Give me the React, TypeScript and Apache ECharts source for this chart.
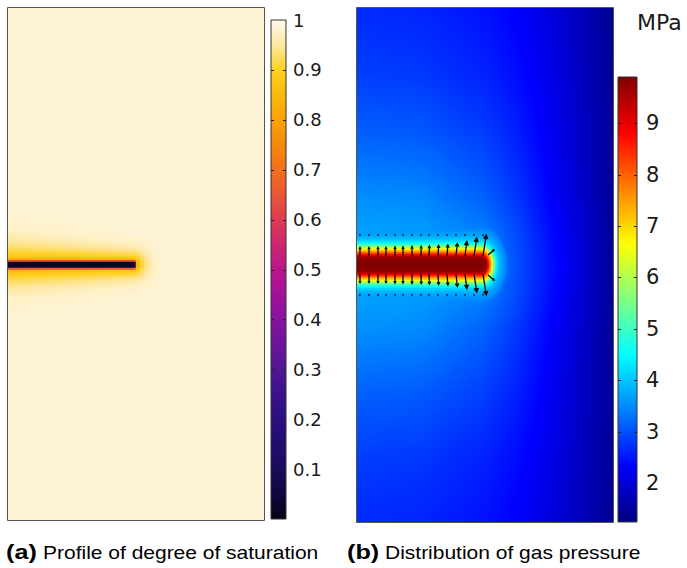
import React, { useEffect, useRef } from 'react';
import * as echarts from 'echarts';

// ---------------- Panel (a): degree of saturation ----------------
const satCrackTip = 125; // crack tip, domain units from left edge (panel width = 256)
const satCrackY = 257; // crack line, domain units from top (panel height = 512)
const satProfileDist = [0, 2, 3, 4, 5, 6, 8, 12, 18, 26, 40];
const satProfileVal = [0.02, 0.03, 0.3, 0.65, 0.82, 0.87, 0.89, 0.92, 0.95, 0.975, 0.985];
const satHaloX = [0, 64, 125, 140];
const satHaloScale = [1.4, 1.1, 0.8, 0.8];
const satRange = [0, 1];
const satTicks = [0.1, 0.2, 0.3, 0.4, 0.5, 0.6, 0.7, 0.8, 0.9, 1];
const satColors = [
  '#050316', '#10073F', '#1A0A5C', '#220C70', '#2B0F80', '#3A128C', '#521594',
  '#6C149B', '#88119E', '#A3119A', '#BA168A', '#CE2570', '#DE3C52', '#E95634',
  '#F0701C', '#F5890A', '#F9A202', '#FCBA0A', '#FFD020', '#FDE7A0', '#FFFAEC',
];

// ---------------- Panel (b): gas pressure (MPa) ----------------
const presCrackTip = 125; // domain units (panel width = 256)
const presCrackY = 257; // domain units (panel height = 514)
const presTipStretch = 1.5;
const presProfileDist = [0, 6, 8, 10, 12, 14, 16, 18, 20, 22, 25, 29, 36, 46, 60];
const presProfileVal = [9.9, 9.8, 9.5, 8.8, 8.0, 7.2, 6.5, 5.7, 5.0, 4.4, 4.0, 3.75, 3.45, 2.7, 1.3];
const farX = [0, 64, 128, 160, 192, 224, 256];
const farDy = [0, 32, 64, 128, 192, 257];
const farP0 = [3.8, 3.8, 3.6, 3.0, 2.5, 2.0, 1.45];
const farP32 = [3.7, 3.65, 3.4, 2.95, 2.45, 1.95, 1.45];
const farP64 = [3.55, 3.5, 3.15, 2.8, 2.35, 1.9, 1.45];
const farP128 = [3.15, 3.1, 2.85, 2.6, 2.25, 1.85, 1.45];
const farP192 = [2.85, 2.8, 2.6, 2.42, 2.15, 1.8, 1.42];
const farP257 = [2.68, 2.63, 2.47, 2.3, 2.05, 1.75, 1.4];
const presRange = [1.24, 9.9];
const presTicks = [2, 3, 4, 5, 6, 7, 8, 9];
const jetColors = ['#000080', '#0000FF', '#0080FF', '#00FFFF', '#80FF80', '#FFFF00', '#FF8000', '#FF0000', '#800000'];

// gas flux arrows (domain units)
const arrowBaseX = [3, 12, 21, 29, 38, 46, 55, 64, 72, 81, 90, 99, 108, 117, 126];
const arrowLength = [10, 10, 10, 10, 10.5, 10.5, 11, 11, 11.5, 12, 12.5, 14, 16, 19.5, 22.5];
const arrowLean = [0, 0, 0, 0, 0, 0, 0, 0.3, 0.5, 0.7, 1, 1.5, 2, 3, 3.5];
const arrowTailOffset = 9;
const weakArrowOffset = 29;
const weakArrowLength = 2.5;
const tipArrows = [
  [131, -10, 138, -16],
  [131, 10, 138, 16],
];

function interp1(xs: number[], ys: number[], x: number): number {
  if (x <= xs[0]) return ys[0];
  for (let k = 1; k < xs.length; k++) {
    if (x <= xs[k]) {
      const t = (x - xs[k - 1]) / (xs[k] - xs[k - 1]);
      return ys[k - 1] + t * (ys[k] - ys[k - 1]);
    }
  }
  return ys[ys.length - 1];
}

function farField(x: number, dy: number): number {
  const rows = [farP0, farP32, farP64, farP128, farP192, farP257];
  const col = rows.map((r) => interp1(farX, r, x));
  return interp1(farDy, col, dy);
}

function crackDist(x: number, y: number, tip: number, cy: number, stretch: number) {
  const dx = Math.max(0, x - tip) * stretch;
  const dy = y - cy;
  return Math.sqrt(dx * dx + dy * dy);
}

function buildOption() {
  // field (a)
  const SAT_COLS = 64, SAT_ROWS = 256, SAT_W = 256, SAT_H = 512;
  const satData: number[][] = [];
  for (let j = 0; j < SAT_ROWS; j++) {
    const cy = ((j + 0.5) * SAT_H) / SAT_ROWS;
    for (let i = 0; i < SAT_COLS; i++) {
      const cx = ((i + 0.5) * SAT_W) / SAT_COLS;
      let d = crackDist(cx, cy, satCrackTip, satCrackY, 1);
      if (d > 4) d = 4 + (d - 4) / interp1(satHaloX, satHaloScale, cx);
      satData.push([i, j, interp1(satProfileDist, satProfileVal, d)]);
    }
  }
  // field (b)
  const P_COLS = 128, P_ROWS = 257, P_W = 256, P_H = 514;
  const presData: number[][] = [];
  const lastD = presProfileDist[presProfileDist.length - 1];
  for (let j = 0; j < P_ROWS; j++) {
    const cy = ((j + 0.5) * P_H) / P_ROWS;
    for (let i = 0; i < P_COLS; i++) {
      const cx = ((i + 0.5) * P_W) / P_COLS;
      const d = crackDist(cx, cy, presCrackTip, presCrackY, presTipStretch);
      let v = farField(cx, Math.abs(cy - presCrackY));
      if (d <= lastD) v = Math.max(v, interp1(presProfileDist, presProfileVal, d));
      v = Math.min(presRange[1], Math.max(presRange[0], v));
      presData.push([i, j, v]);
    }
  }
  // arrows
  const arrows: number[][] = [];
  arrowBaseX.forEach((x, k) => {
    const L = arrowLength[k];
    const lean = arrowLean[k];
    arrows.push([x, presCrackY - arrowTailOffset, x + lean, presCrackY - arrowTailOffset - L]);
    arrows.push([x, presCrackY + arrowTailOffset, x + lean, presCrackY + arrowTailOffset + L]);
    arrows.push([x, presCrackY - weakArrowOffset, x, presCrackY - weakArrowOffset - weakArrowLength]);
    arrows.push([x, presCrackY + weakArrowOffset, x, presCrackY + weakArrowOffset + weakArrowLength]);
  });
  tipArrows.forEach((a) => arrows.push([a[0], presCrackY + a[1], a[2], presCrackY + a[3]]));

  const cat = (n: number) => Array.from({ length: n }, (_, k) => String(k));

  const gradStops = (colors: string[]) =>
    colors
      .map((c, k) => ({ offset: 1 - k / (colors.length - 1), color: c }))
      .reverse();

  const colorbarSeries = (xi: number, yi: number, colors: string[], range: number[], ticks: number[]) => ({
    type: 'custom',
    xAxisIndex: xi,
    yAxisIndex: yi,
    silent: true,
    z: 3,
    data: [[0, range[0]]],
    renderItem: (_p: any, api: any) => {
      const a = api.coord([0, range[1]]);
      const b = api.coord([1, range[0]]);
      const children: any[] = [
        {
          type: 'rect',
          shape: { x: a[0], y: a[1], width: b[0] - a[0], height: b[1] - a[1] },
          style: {
            fill: new echarts.graphic.LinearGradient(0, 0, 0, 1, gradStops(colors)),
            stroke: '#333',
            lineWidth: 1,
          },
        },
      ];
      ticks.forEach((t) => {
        const y = Math.round(api.coord([0, t])[1]) + 0.5;
        if (y <= a[1] + 1 || y >= b[1] - 1) return;
        children.push({ type: 'line', shape: { x1: a[0], y1: y, x2: a[0] + 3, y2: y }, style: { stroke: '#222', lineWidth: 1 } });
        children.push({ type: 'line', shape: { x1: b[0] - 3, y1: y, x2: b[0], y2: y }, style: { stroke: '#222', lineWidth: 1 } });
      });
      return { type: 'group', children };
    },
  });

  const cbAxis = (gi: number, range: number[], ticks: number[], fs: number, margin: number) => ({
    gridIndex: gi,
    type: 'value',
    min: range[0],
    max: range[1],
    position: 'right',
    axisLine: { show: false },
    splitLine: { show: false },
    axisTick: { show: false },
    axisLabel: {
      show: true,
      customValues: ticks,
      margin,
      fontSize: fs,
      fontFamily: 'DejaVu Sans',
      color: '#1a1a1a',
      formatter: (v: number) => String(v),
    },
  });

  return {
    animation: false,
    backgroundColor: '#ffffff',
    grid: [
      { left: 8, top: 8, width: 256, height: 512 },
      { left: 271, top: 20, width: 15, height: 499 },
      { left: 357, top: 8, width: 256, height: 514 },
      { left: 357, top: 8, width: 256, height: 514 },
      { left: 618, top: 77, width: 19, height: 445 },
    ],
    xAxis: [
      { gridIndex: 0, type: 'category', data: cat(SAT_COLS), show: false },
      { gridIndex: 1, type: 'value', min: 0, max: 1, show: false },
      { gridIndex: 2, type: 'category', data: cat(P_COLS), show: false },
      { gridIndex: 3, type: 'value', min: 0, max: P_W, show: false },
      { gridIndex: 4, type: 'value', min: 0, max: 1, show: false },
    ],
    yAxis: [
      { gridIndex: 0, type: 'category', data: cat(SAT_ROWS), inverse: true, show: false },
      cbAxis(1, satRange, satTicks, 18, 7),
      { gridIndex: 2, type: 'category', data: cat(P_ROWS), inverse: true, show: false },
      { gridIndex: 3, type: 'value', min: 0, max: P_H, inverse: true, show: false },
      cbAxis(4, presRange, presTicks, 21, 9),
    ],
    visualMap: [
      { type: 'continuous', show: false, seriesIndex: 0, dimension: 2, min: satRange[0], max: satRange[1], inRange: { color: satColors } },
      { type: 'continuous', show: false, seriesIndex: 2, dimension: 2, min: presRange[0], max: presRange[1], inRange: { color: jetColors } },
    ],
    series: [
      { type: 'heatmap', xAxisIndex: 0, yAxisIndex: 0, data: satData, progressive: 0, silent: true, emphasis: { disabled: true } },
      colorbarSeries(1, 1, satColors, satRange, satTicks),
      { type: 'heatmap', xAxisIndex: 2, yAxisIndex: 2, data: presData, progressive: 0, silent: true, emphasis: { disabled: true } },
      {
        type: 'custom',
        xAxisIndex: 3,
        yAxisIndex: 3,
        silent: true,
        z: 5,
        data: arrows,
        renderItem: (_p: any, api: any) => {
          const p0 = api.coord([api.value(0), api.value(1)]);
          const p1 = api.coord([api.value(2), api.value(3)]);
          const dx = p1[0] - p0[0];
          const dy = p1[1] - p0[1];
          const L = Math.hypot(dx, dy) || 1;
          const ux = dx / L, uy = dy / L;
          const hl = Math.min(5.5, Math.max(1.5, L * 0.33));
          const hw = hl * 0.5;
          const bx = p1[0] - ux * hl, by = p1[1] - uy * hl;
          return {
            type: 'group',
            children: [
              { type: 'line', shape: { x1: p0[0], y1: p0[1], x2: bx, y2: by }, style: { stroke: '#000', lineWidth: 1.3 } },
              {
                type: 'polygon',
                shape: { points: [[p1[0], p1[1]], [bx - uy * hw, by + ux * hw], [bx + uy * hw, by - ux * hw]] },
                style: { fill: '#000' },
              },
            ],
          };
        },
      },
      colorbarSeries(4, 4, jetColors, presRange, presTicks),
    ],
    graphic: [
      { type: 'rect', z: 100, silent: true, shape: { x: 7.5, y: 7.5, width: 257, height: 513 }, style: { fill: 'none', stroke: '#555', lineWidth: 1 } },
      { type: 'rect', z: 100, silent: true, shape: { x: 356.5, y: 7.5, width: 257, height: 515 }, style: { fill: 'none', stroke: '#555', lineWidth: 1 } },
      { type: 'text', z: 100, x: 637, y: 22, style: { text: 'MPa', fontSize: 22, fontFamily: 'DejaVu Sans', fill: '#1a1a1a', verticalAlign: 'middle' } },
      { type: 'text', z: 100, x: 6, y: 552, scaleX: 1.2, style: { text: '(a)', fontSize: 21, fontWeight: 'bold', fontFamily: 'Liberation Sans', fill: '#000', verticalAlign: 'middle' } },
      { type: 'text', z: 100, x: 43, y: 553, scaleX: 1.2, style: { text: 'Profile of degree of saturation', fontSize: 17.5, fontFamily: 'Liberation Sans', fill: '#000', verticalAlign: 'middle' } },
      { type: 'text', z: 100, x: 347, y: 552, scaleX: 1.2, style: { text: '(b)', fontSize: 21, fontWeight: 'bold', fontFamily: 'Liberation Sans', fill: '#000', verticalAlign: 'middle' } },
      { type: 'text', z: 100, x: 385, y: 553, scaleX: 1.2, style: { text: 'Distribution of gas pressure', fontSize: 17.5, fontFamily: 'Liberation Sans', fill: '#000', verticalAlign: 'middle' } },
    ],
  };
}

export default function App() {
  const ref = useRef<HTMLDivElement>(null);
  useEffect(() => {
    if (!ref.current) return;
    const chart = echarts.init(ref.current, undefined, { renderer: 'svg' });
    chart.setOption(buildOption() as any);
    return () => chart.dispose();
  }, []);
  return (
    <div
      ref={ref}
      style={{ position: 'absolute', left: 0, top: 0, width: 687, height: 568, background: '#fff' }}
    />
  );
}
